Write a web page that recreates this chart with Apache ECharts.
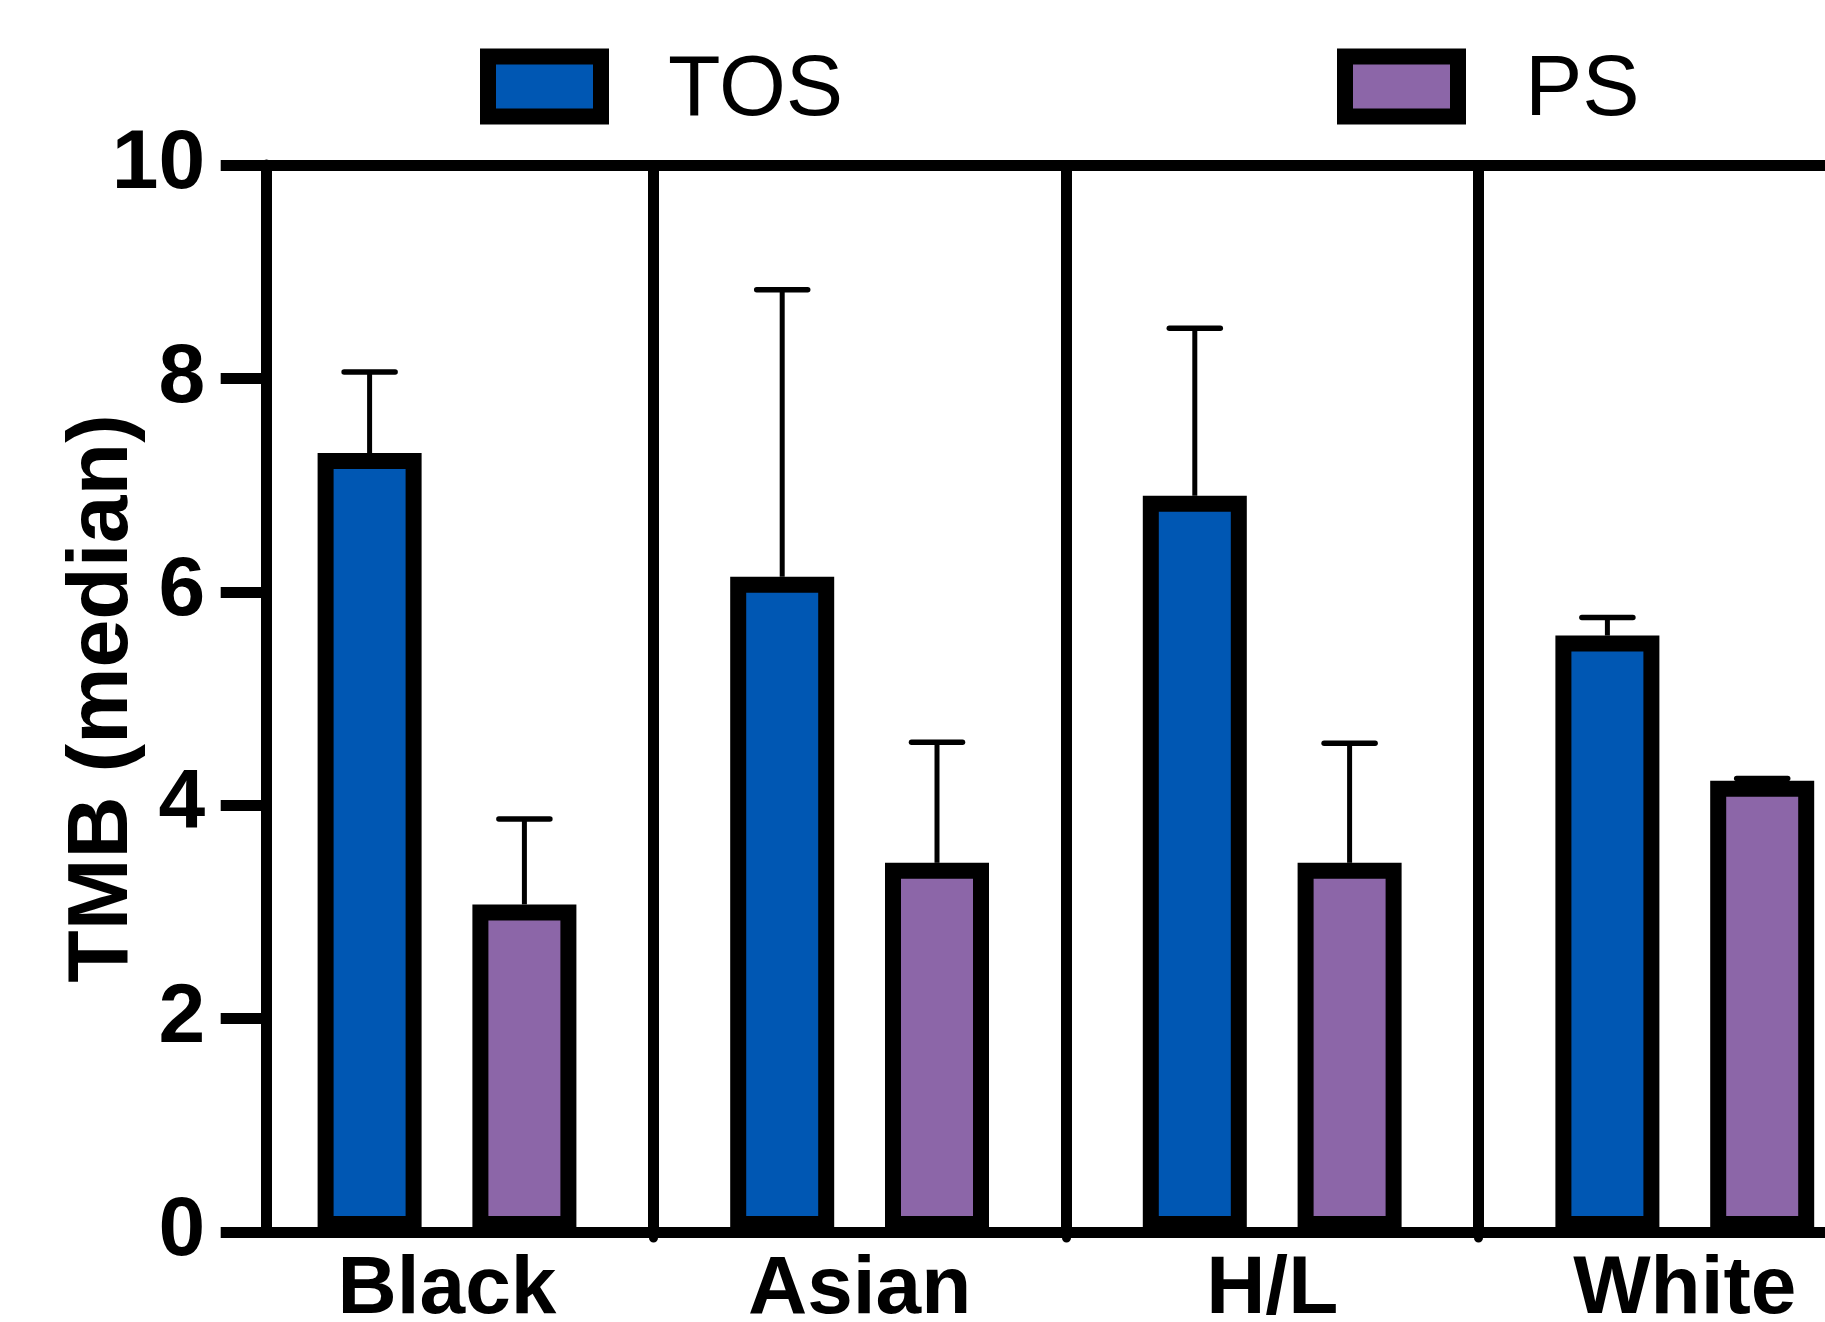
<!DOCTYPE html>
<html>
<head>
<meta charset="utf-8">
<script src="https://cdn.jsdelivr.net/npm/echarts@6/dist/echarts.min.js"></script>
<style>
  html, body { margin: 0; padding: 0; background: #fff; }
  #chart { width: 1825px; height: 1322px; }
</style>
</head>
<body>
<div id="chart"></div>
<script>
// ---- data ----
const categories = ['Black', 'Asian', 'H/L', 'White'];
const seriesNames = ['TOS', 'PS'];
const tosValues = [7.30, 6.14, 6.90, 5.59];
const tosUpper  = [8.06, 8.83, 8.47, 5.76];
const psValues  = [3.07, 3.46, 3.46, 4.23];
const psUpper   = [3.87, 4.59, 4.58, 4.25];
const yTicks = [0, 2, 4, 6, 8, 10];

// ---- style constants ----
const FONT = 'Liberation Sans, Arial, Helvetica, sans-serif';
const BAR_W = 104;
const BAR_GAP_PX = 50.8;
const OFFSET = (BAR_W + BAR_GAP_PX) / 2;
const LINE_W = 11;

function errorSeries(values, upper, side) {
  return {
    type: 'custom',
    name: 'err' + side,
    z: 5,
    data: values.map((v, i) => [i, v, upper[i]]),
    encode: { x: 0, y: [1, 2] },
    renderItem: function (params, api) {
      const cx = api.coord([api.value(0), 0])[0] + side * OFFSET;
      const yBar = api.coord([api.value(0), api.value(1)])[1];
      const yTop = api.coord([api.value(0), api.value(2)])[1];
      return {
        type: 'group',
        children: [
          { type: 'line', shape: { x1: cx, y1: yBar, x2: cx, y2: yTop },
            style: { stroke: '#000', lineWidth: 5 } },
          { type: 'line', shape: { x1: cx - 25.5, y1: yTop, x2: cx + 25.5, y2: yTop },
            style: { stroke: '#000', lineWidth: 5.5, lineCap: 'round' } }
        ]
      };
    }
  };
}

const chart = echarts.init(document.getElementById('chart'), null, { renderer: 'canvas' });
const legendText = {
  fontFamily: FONT, fontSize: 86, fontWeight: 'normal', color: '#000',
  rich: {
    t: { fontFamily: FONT, fontSize: 86, fontWeight: 'normal', color: '#000',
         padding: [9, 0, 0, 62] }
  }
};
const legendFormatter = function (name) { return '{t|' + name + '}'; };
chart.setOption({
  animation: false,
  backgroundColor: '#fff',
  legend: [
    { data: [seriesNames[0]], left: 480, top: 48, padding: 0, itemWidth: 113, itemHeight: 60,
      icon: 'rect', selectedMode: false, textStyle: legendText, formatter: legendFormatter,
      itemStyle: { borderWidth: 16, borderColor: '#000' } },
    { data: [seriesNames[1]], left: 1337, top: 48, padding: 0, itemWidth: 113, itemHeight: 60,
      icon: 'rect', selectedMode: false, textStyle: legendText, formatter: legendFormatter,
      itemStyle: { borderWidth: 16, borderColor: '#000' } }
  ],
  grid: { left: 240.7, top: 165, width: 1650.4, height: 1067, outerBoundsMode: 'none' },
  xAxis: [
    {
      type: 'category', data: categories, position: 'bottom', boundaryGap: true,
      axisLine: { show: true, lineStyle: { color: '#000', width: LINE_W } },
      axisTick: { show: true, length: 6, interval: function (i) { return i !== 0; },
        lineStyle: { color: '#000', width: 9, cap: 'round' } },
      axisLabel: { fontFamily: FONT, fontSize: 82, fontWeight: 'bold', color: '#000',
        margin: 17, lineHeight: 82, interval: 0 },
      splitLine: { show: true, showMinLine: false, showMaxLine: false,
        lineStyle: { color: '#000', width: LINE_W } }
    },
    {
      type: 'category', data: categories, position: 'top', boundaryGap: true,
      axisLine: { show: true, lineStyle: { color: '#000', width: LINE_W } },
      axisTick: { show: false }, axisLabel: { show: false }, splitLine: { show: false }
    }
  ],
  yAxis: {
    type: 'value', min: yTicks[0], max: yTicks[yTicks.length - 1], interval: 2,
    offset: -25.5,
    name: 'TMB (median)', nameLocation: 'middle', nameGap: 120, nameRotate: 90,
    nameMoveOverlap: false,
    nameTextStyle: { fontFamily: FONT, fontSize: 86, fontWeight: 'bold', color: '#000', lineHeight: 86 },
    axisLine: { show: true, lineStyle: { color: '#000', width: LINE_W } },
    axisTick: { show: true, length: 45.5, lineStyle: { color: '#000', width: LINE_W } },
    axisLabel: { fontFamily: FONT, fontSize: 84, fontWeight: 'bold', color: '#000', margin: 61 },
    splitLine: { show: false }
  },
  series: [
    { name: seriesNames[0], type: 'bar', data: tosValues, barWidth: BAR_W,
      barGap: (BAR_GAP_PX / BAR_W * 100) + '%', z: 3,
      itemStyle: { color: '#0057B3', borderColor: '#000', borderWidth: 16 } },
    { name: seriesNames[1], type: 'bar', data: psValues, barWidth: BAR_W,
      barGap: (BAR_GAP_PX / BAR_W * 100) + '%', z: 3,
      itemStyle: { color: '#8C66A8', borderColor: '#000', borderWidth: 16 } },
    errorSeries(tosValues, tosUpper, -1),
    errorSeries(psValues, psUpper, 1)
  ]
});
</script>
</body>
</html>
